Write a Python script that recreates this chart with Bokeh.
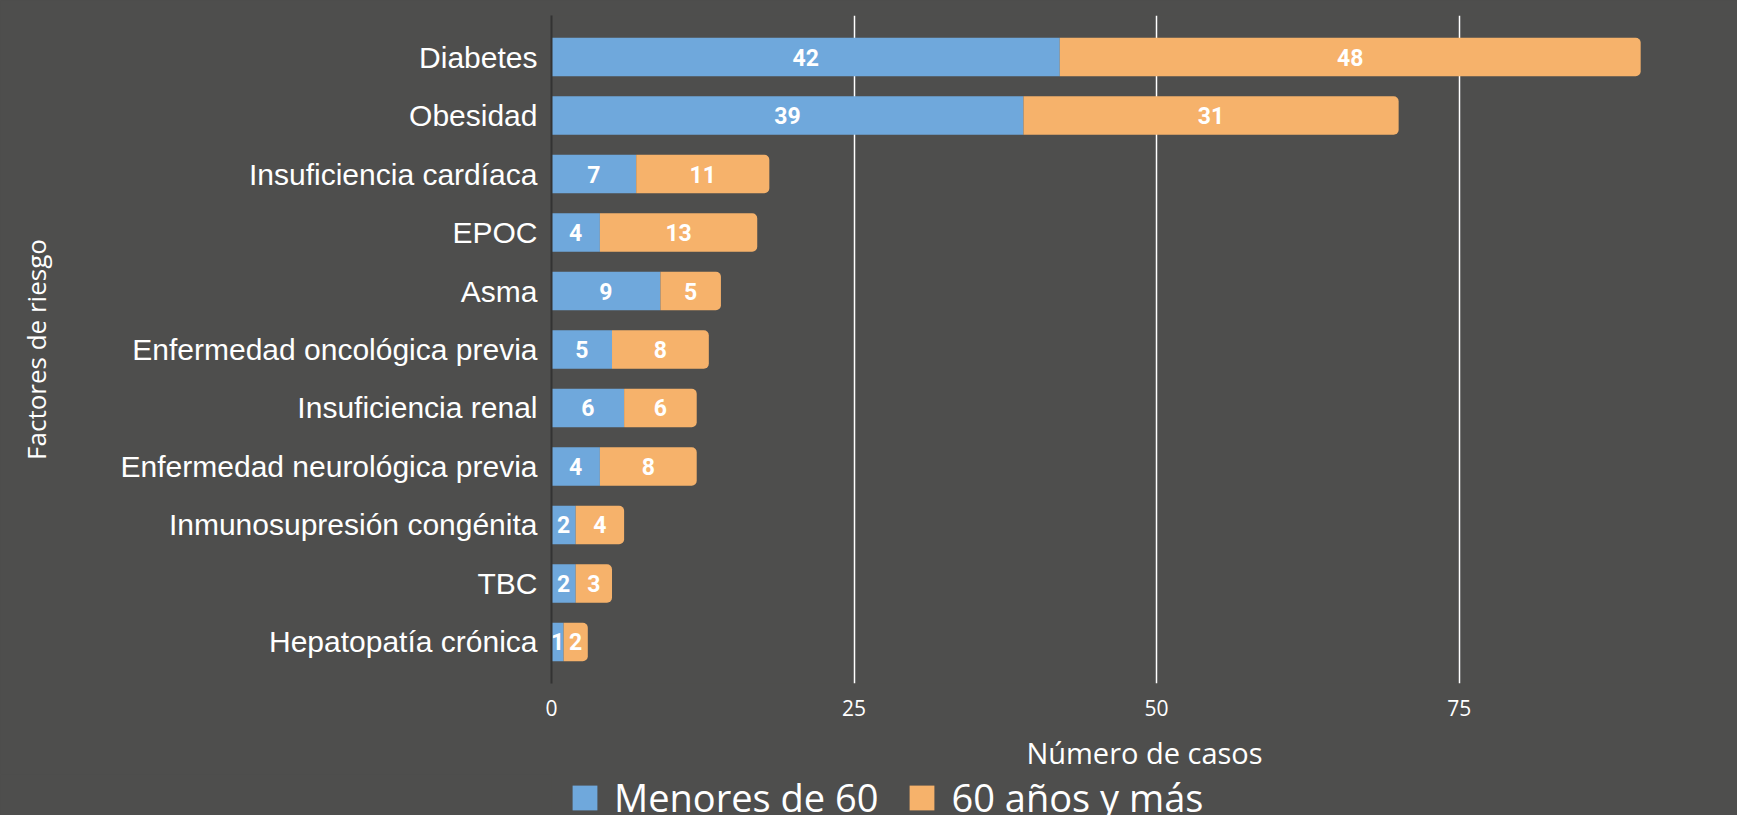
from bokeh.plotting import figure
from bokeh.layouts import column
from bokeh.models import ColumnDataSource, FactorRange, Range1d, FixedTicker, Legend, LegendItem
from bokeh.transform import stack
from bokeh.core.properties import value
from bokeh.embed import file_html
from bokeh.resources import INLINE

# ---- data ----
factores = [
    "Diabetes",
    "Obesidad",
    "Insuficiencia cardíaca",
    "EPOC",
    "Asma",
    "Enfermedad oncológica previa",
    "Insuficiencia renal",
    "Enfermedad neurológica previa",
    "Inmunosupresión congénita",
    "TBC",
    "Hepatopatía crónica",
]
menores_60 = [42, 39, 7, 4, 9, 5, 6, 4, 2, 2, 1]
mayores_60 = [48, 31, 11, 13, 5, 8, 6, 8, 4, 3, 2]
series_names = ["Menores de 60", "60 años y más"]
x_ticks = [0, 25, 50, 75]

BG = "#4e4e4d"
BLUE = "#6fa8dc"
ORANGE = "#f6b26b"

src = ColumnDataSource(dict(factor=factores, menores=menores_60, mayores=mayores_60))

p = figure(
    frame_width=1186, frame_height=668,
    y_range=FactorRange(factors=factores[::-1], range_padding=0.0382),
    x_range=Range1d(0, 98.0),
    output_backend="svg", toolbar_location=None,
    min_border_left=551, min_border_right=0, min_border_top=15, min_border_bottom=0,
)
p.background_fill_color = BG
p.border_fill_color = BG
p.outline_line_color = None

r1 = p.hbar(y="factor", left=stack(), right=stack("menores"), height=0.656,
            fill_color=BLUE, line_color=None, source=src)
r2 = p.hbar(y="factor", left=stack("menores"), right=stack("menores", "mayores"), height=0.656,
            fill_color=ORANGE, line_color=None, border_radius=(0, 5, 5, 0), source=src)

mid_menores = [m / 2 for m in menores_60]
mid_mayores = [m + o / 2 for m, o in zip(menores_60, mayores_60)]
lbl_src = ColumnDataSource(dict(
    factor=factores + factores,
    x=mid_menores + mid_mayores,
    text=[str(v) for v in menores_60 + mayores_60],
))
p.text(x="x", y="factor", text="text", source=lbl_src,
       text_font=value("Roboto"), text_font_style="bold", text_font_size="23px",
       text_color="white", text_align="center", text_baseline="middle")

# grid
p.ygrid.grid_line_color = None
p.xgrid.ticker = FixedTicker(ticks=[t for t in x_ticks if t > 0])
p.xgrid.grid_line_color = "white"
p.xgrid.grid_line_width = 1.5

# y axis
p.yaxis.axis_line_color = "#333333"
p.yaxis.axis_line_width = 2
p.yaxis.major_tick_line_color = None
p.yaxis.minor_tick_line_color = None
p.yaxis.major_label_text_font = "Liberation Sans"
p.yaxis.major_label_text_font_size = "30px"
p.yaxis.major_label_text_color = "white"
p.yaxis.major_label_standoff = 8
p.yaxis.axis_label = "Factores de riesgo"
p.yaxis.axis_label_text_font = "Open Sans"
p.yaxis.axis_label_text_font_size = "26px"
p.yaxis.axis_label_text_font_style = "normal"
p.yaxis.axis_label_text_color = "white"
p.yaxis.axis_label_standoff = 64

# x axis
p.xaxis.ticker = FixedTicker(ticks=x_ticks)
p.xaxis.axis_line_color = None
p.xaxis.major_tick_line_color = None
p.xaxis.minor_tick_line_color = None
p.xaxis.major_label_text_font = "Open Sans"
p.xaxis.major_label_text_font_size = "21px"
p.xaxis.major_label_text_color = "white"
p.xaxis.major_label_standoff = 10
p.xaxis.axis_label = "Número de casos"
p.xaxis.axis_label_text_font = "Open Sans"
p.xaxis.axis_label_text_font_size = "29px"
p.xaxis.axis_label_text_font_style = "normal"
p.xaxis.axis_label_text_color = "white"
p.xaxis.axis_label_standoff = 14

# ---- legend row (own small figure, same data source) ----
lg = figure(
    width=1737, height=46,
    y_range=FactorRange(factors=factores[::-1]),
    x_range=Range1d(-20, -10),
    x_axis_type=None, y_axis_type=None,
    output_backend="svg", toolbar_location=None,
    min_border_left=0, min_border_right=0, min_border_top=0, min_border_bottom=0,
)
lg.background_fill_color = BG
lg.border_fill_color = BG
lg.outline_line_color = None
lg.grid.visible = False
lr1 = lg.hbar(y="factor", left=stack(), right=stack("menores"), height=0.656,
              fill_color=BLUE, line_color=None, source=src)
lr2 = lg.hbar(y="factor", left=stack("menores"), right=stack("menores", "mayores"), height=0.656,
              fill_color=ORANGE, line_color=None, source=src)

legend = Legend(
    items=[LegendItem(label=series_names[0], renderers=[lr1]),
           LegendItem(label=series_names[1], renderers=[lr2])],
    location="left", orientation="horizontal",
    label_text_font="Open Sans", label_text_font_size="38px", label_text_color="white",
    label_text_baseline="middle",
    glyph_width=31, glyph_height=31, label_height=31, label_standoff=14, spacing=28,
    padding=0, margin=18, background_fill_alpha=0, border_line_alpha=0,
)
lg.add_layout(legend)

layout = column(p, lg, spacing=0)

open("out.html", "w").write(
    file_html(layout, INLINE).replace(
        "</head>", "<style>html,body{margin:0;padding:0;background:#4e4e4d;overflow:hidden;}</style></head>", 1)
)
